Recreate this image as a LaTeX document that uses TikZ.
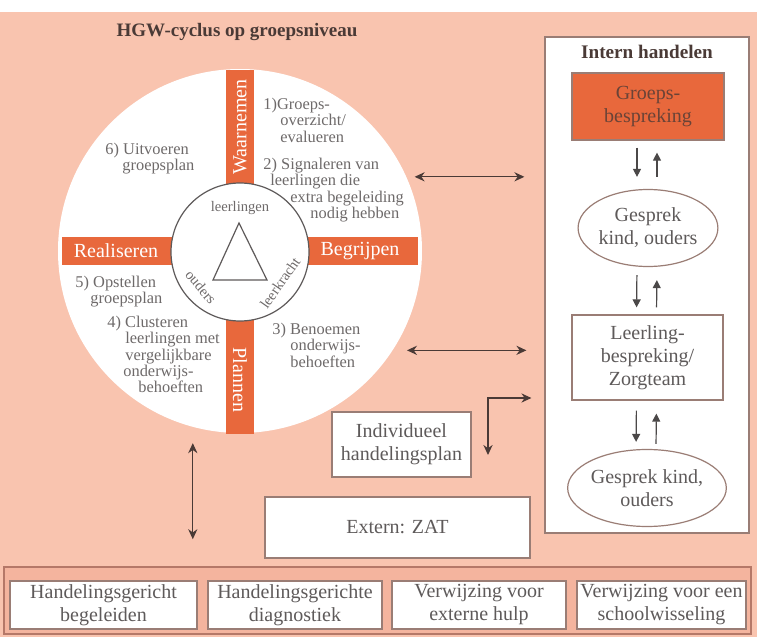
\documentclass[tikz,border=0pt]{standalone}
\usepackage{fontspec}
\setmainfont{Liberation Serif}
\usetikzlibrary{arrows.meta,shapes.geometric}
\definecolor{bgsalmon}{HTML}{F9C4AF}
\definecolor{bandfill}{HTML}{F4B49E}
\definecolor{bandline}{HTML}{B57868}
\definecolor{barorange}{HTML}{E8683C}
\definecolor{boxline}{HTML}{9A7D75}
\definecolor{txtgrey}{HTML}{5E5A5A}
\definecolor{qgrey}{HTML}{6E6A6A}
\definecolor{darkbrown}{HTML}{4A3A36}
\tikzset{
  whitebox/.style={draw=boxline, line width=0.6pt, fill=white, inner sep=0pt, align=center,
    text=txtgrey, font=\fontsize{10}{11.5}\selectfont},
  ellbox/.style={ellipse, draw=boxline, line width=0.6pt, fill=white, inner sep=0pt, align=center,
    text=txtgrey, font=\fontsize{10}{11.5}\selectfont},
  bartext/.style={text=white, font=\fontsize{10}{12}\selectfont, inner sep=0pt},
  qtext/.style={anchor=north west, inner sep=0pt, align=left, text=qgrey,
    font=\fontsize{8.2}{8.1}\selectfont},
  itext/.style={inner sep=0pt, text=qgrey, font=\fontsize{7.3}{9}\selectfont},
  darr/.style={{Stealth[length=5pt,width=4.6pt]}-{Stealth[length=5pt,width=4.6pt]}, draw=darkbrown, line width=0.6pt},
  uarr/.style={-{Triangle[length=4pt,width=4pt]}, draw=txtgrey!80!black, line width=0.6pt},
}
\begin{document}
\begin{tikzpicture}[x=0.5pt,y=-0.5pt]
\useasboundingbox (0,0) rectangle (757,637);
% background
\fill[bgsalmon] (0,0) rectangle (757,637);
\fill[white] (0,0) rectangle (757,12);
% title
\node[font=\bfseries\fontsize{9.5}{11}\selectfont, text=darkbrown, inner sep=0pt] (title) at (237,32) {HGW-cyclus op groepsniveau};
% outer circle
\node[circle, fill=white, minimum size=182pt, inner sep=0pt] (outer) at (240,251) {};
% bars
\fill[barorange] (226,70) rectangle (254,190);
\fill[barorange] (226,312) rectangle (254,434);
\fill[barorange] (62,237) rectangle (180,265);
\fill[barorange] (300,237) rectangle (418,265);
\node[bartext, rotate=90] (waar) at (240,127) {Waarnemen};
\node[bartext, rotate=-90] (plan) at (240,380) {Plannen};
\node[bartext] (real) at (116,251) {Realiseren};
\node[bartext] (begr) at (360,251) {Begrijpen};
% inner circle
\node[circle, draw=txtgrey, line width=0.6pt, fill=white, minimum size=69pt, inner sep=0pt] (inner) at (240,252) {};
\node[itext] (leer) at (240,208) {leerlingen};
\node[itext, rotate=-50] (oud) at (201,287) {ouders};
\node[itext, rotate=55] (lkr) at (280,283) {leerkracht};
\draw[txtgrey, line width=0.6pt] (239,223) -- (213,280) -- (267,280) -- cycle;
% quadrant texts
\node[qtext] (q1) at (263,98) {1)Groeps-\\\hspace*{8.5pt}overzicht/\\\hspace*{8.5pt}evalueren};
\node[qtext] (q2) at (263,158) {2) Signaleren van\\\hspace*{3.5pt}leerlingen die\\\hspace*{13.5pt}extra begeleiding\\\hspace*{23.5pt}nodig hebben};
\node[qtext] (q6) at (105,143) {6) Uitvoeren\\\hspace*{8.5pt}groepsplan};
\node[qtext] (q5) at (75,276) {5) Opstellen\\\hspace*{7.5pt}groepsplan};
\node[qtext] (q4) at (107,316) {4) Clusteren\\\hspace*{9pt}leerlingen met\\\hspace*{9pt}vergelijkbare\\\hspace*{8pt}onderwijs-\\\hspace*{15.5pt}behoeften};
\node[qtext] (q3) at (272,323) {3) Benoemen\\\hspace*{9pt}onderwijs-\\\hspace*{9pt}behoeften};
% right panel
\node[draw=boxline, line width=0.6pt, fill=white, minimum width=102pt, minimum height=248pt, inner sep=0pt] (panel) at (647,285) {};
\node[font=\bfseries\fontsize{9.6}{11}\selectfont, text=darkbrown, inner sep=0pt] (intern) at (647,52) {Intern handelen};
\node[whitebox, fill=barorange, draw=boxline, text=darkbrown!80!barorange, minimum width=76pt, minimum height=33.5pt] (groep) at (648,106.5) {Groeps-\\bespreking};
\node[ellbox, minimum width=66pt, minimum height=38.5pt] (ell1) at (648,228) {Gesprek\\kind, ouders};
\node[whitebox, minimum width=75.5pt, minimum height=42.5pt] (lb) at (647.5,357.5) {Leerling-\\bespreking/\\Zorgteam};
\node[ellbox, minimum width=66pt, minimum height=38.5pt] (ell2) at (647,488) {Gesprek kind,\\ouders};
% panel arrows
\draw[uarr, shorten <=3.5pt, shorten >=6pt] ([xshift=-5.5pt]groep.south) -- ([xshift=-5.5pt]ell1.north);
\draw[uarr, shorten <=6pt, shorten >=6pt] ([xshift=4.5pt]ell1.north) -- ([xshift=4.5pt]groep.south);
\draw[uarr, shorten <=4pt, shorten >=3.5pt] ([xshift=-5.5pt]ell1.south) -- ([xshift=-5.5pt]lb.north);
\draw[uarr, shorten <=3.5pt, shorten >=6.5pt] ([xshift=4.5pt]lb.north) -- ([xshift=4.5pt]ell1.south);
\draw[uarr, shorten <=5pt, shorten >=3.5pt] ([xshift=-5.5pt]lb.south) -- ([xshift=-5.5pt]ell2.north);
\draw[uarr, shorten <=2.5pt, shorten >=6.5pt] ([xshift=4.5pt]ell2.north) -- ([xshift=4.5pt]lb.south);
% other boxes
\node[whitebox, minimum width=69.5pt, minimum height=32.5pt] (ihp) at (401.5,444.5) {Individueel\\handelingsplan};
\node[whitebox, minimum width=132.5pt, minimum height=30.5pt] (zat) at (397.5,527.5) {Extern: ZAT};
% bottom band
\node[draw=bandline, line width=0.8pt, fill=bandfill, minimum width=373.5pt, minimum height=33.5pt, inner sep=0pt] (band) at (377.5,600.5) {};
\node[whitebox, minimum width=93.5pt, minimum height=24pt] (b1) at (103.5,605) {Handelingsgericht\\begeleiden};
\node[whitebox, minimum width=87pt, minimum height=24pt] (b2) at (295,605) {Handelingsgerichte\\diagnostiek};
\node[whitebox, minimum width=87pt, minimum height=24pt] (b3) at (479,605) {Verwijzing voor\\externe hulp};
\node[whitebox, minimum width=84.5pt, minimum height=24pt] (b4) at (661.5,605) {Verwijzing voor een\\schoolwisseling};
% connectors
\draw[darr, shorten <=4pt, shorten >=10pt] (outer.24.7) -- (outer.24.7 -| panel.west);
\draw[darr, shorten <=7pt, shorten >=9pt] (outer.-33.7) -- (outer.-33.7 -| panel.west);
\draw[darr, shorten <=8pt, shorten >=13.5pt] (outer.-105) -- (outer.-105 |- band.north);
\coordinate (ipa) at (488,455);
\coordinate (elb) at (488,398);
\draw[darr, shorten >=6.5pt] (ipa) -- (elb) -- (elb -| panel.west);
\end{tikzpicture}
\end{document}
